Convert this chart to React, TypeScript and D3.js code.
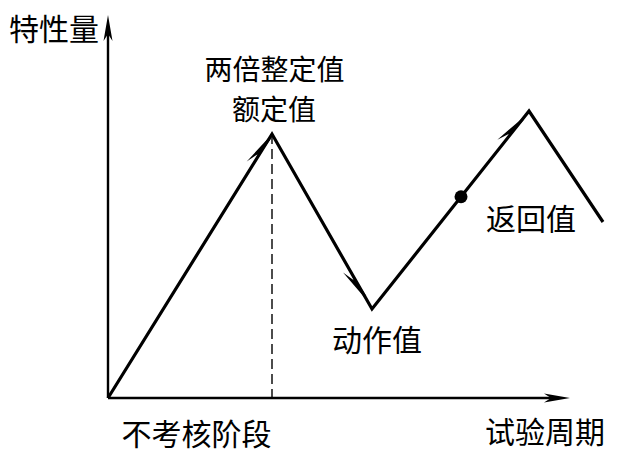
import * as d3 from "d3";

// schematic curve: test period vs characteristic value
const times = [0, 164, 264, 421, 495];
const values = [0, 264, 89, 287, 176];

// arrow heads: which segment, and how far along it the tip sits
const arrowSegments = [0, 1, 2];
const arrowAt = [0.985, 0.93, 0.96];

// the marked point (返回值) on segment 2
const dotSegment = 2;
const dotAt = 0.567;

const xMax = 462;
const yMax = 383;

const labels = ["特性量", "两倍整定值", "额定值", "动作值", "返回值", "不考核阶段", "试验周期"];
const labelX = [-54, 166.5, 166, 269, 423, 88.5, 437];
const labelY = [371, 330, 290, 60, 181, -34, -32];
const labelSize = [30, 28, 28, 30, 30, 30, 30];

const W = 626;
const H = 459;
const FONT = "'Noto Sans CJK SC', 'Noto Sans CJK JP', sans-serif";

const x = d3.scaleLinear().domain([0, xMax]).range([108, 570]);
const y = d3.scaleLinear().domain([0, yMax]).range([398, 15]);

const pts = times.map((t, i) => [x(t), y(values[i])] as [number, number]);

function along(seg: number, t: number): [number, number] {
  const [x0, y0] = pts[seg];
  const [x1, y1] = pts[seg + 1];
  return [x0 + (x1 - x0) * t, y0 + (y1 - y0) * t];
}

// one-sided barb, on the west side of the line
function barb(seg: number, t: number) {
  const [tx, ty] = along(seg, t);
  const [x0, y0] = pts[seg];
  const [x1, y1] = pts[seg + 1];
  const len = Math.hypot(x1 - x0, y1 - y0);
  const ux = (x1 - x0) / len;
  const uy = (y1 - y0) / len;
  let px = uy;
  let py = -ux;
  if (px > 0) {
    px = -px;
    py = -py;
  }
  const L = 28;
  const w = 7;
  const p = d3.path();
  p.moveTo(tx + px * 0.8, ty + py * 0.8);
  p.lineTo(tx - ux * (L + 4) + px * w, ty - uy * (L + 4) + py * w);
  p.lineTo(tx - ux * (L - 8) + px * 1.5, ty - uy * (L - 8) + py * 1.5);
  p.lineTo(tx - ux * L, ty - uy * L);
  p.lineTo(tx - px * 1.5, ty - py * 1.5);
  p.closePath();
  return p.toString();
}

function axisArrow(tx: number, ty: number, dx: number, dy: number) {
  const L = 26;
  const w = 4.5;
  const px = -dy;
  const py = dx;
  const p = d3.path();
  p.moveTo(tx, ty);
  p.lineTo(tx - dx * L + px * w, ty - dy * L + py * w);
  p.lineTo(tx - dx * (L - 7), ty - dy * (L - 7));
  p.lineTo(tx - dx * L - px * w, ty - dy * L - py * w);
  p.closePath();
  return p.toString();
}

export default function App() {
  const line = d3.line<[number, number]>()(pts) ?? "";
  const [dx, dy] = along(dotSegment, dotAt);
  return (
    <svg
      width={W}
      height={H}
      style={{ position: "absolute", left: 0, top: 0, background: "#fff" }}
    >
      {/* axes */}
      <line x1={x(0)} y1={y(0)} x2={x(0)} y2={y(yMax) + 12} stroke="#000" strokeWidth={2.4} />
      <line x1={x(0)} y1={y(0)} x2={x(xMax) - 12} y2={y(0)} stroke="#000" strokeWidth={2.4} />
      <path d={axisArrow(x(0), y(yMax), 0, -1)} fill="#000" />
      <path d={axisArrow(x(xMax), y(0), 1, 0)} fill="#000" />

      {/* drop line under first peak */}
      <line
        x1={x(times[1])}
        y1={y(values[1])}
        x2={x(times[1])}
        y2={y(0)}
        stroke="#000"
        strokeWidth={1.4}
        strokeDasharray="10 5"
      />

      <path d={line} fill="none" stroke="#000" strokeWidth={3.2} strokeLinejoin="miter" />

      {arrowSegments.map((s, i) => (
        <path key={i} d={barb(s, arrowAt[i])} fill="#000" />
      ))}

      <circle cx={dx} cy={dy} r={6.5} fill="#000" />

      {labels.map((t, i) => (
        <text
          key={t}
          x={x(labelX[i])}
          y={y(labelY[i])}
          textAnchor="middle"
          dominantBaseline="central"
          style={{ font: `${labelSize[i]}px ${FONT}` }}
          fill="#000"
        >
          {t}
        </text>
      ))}
    </svg>
  );
}
